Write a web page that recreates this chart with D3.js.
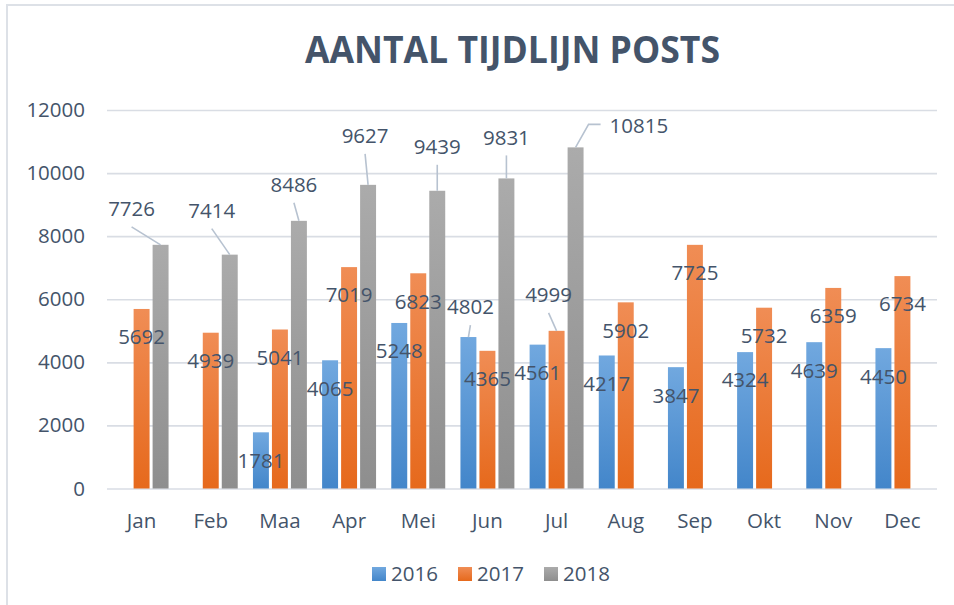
<!DOCTYPE html>
<html lang="nl">
<head>
    <meta charset="utf-8">
    <title>Aantal tijdlijn posts</title>
    <script src="https://cdn.jsdelivr.net/npm/d3@7"></script>
    <style>
        body { margin: 0; background: #fff; }
        text { font-family: "Open Sans", "Noto Sans", sans-serif; fill: #44546a; }
        .grid line { stroke: #d9dde4; stroke-width: 1.6; }
        .grid .domain { display: none; }
    </style>
</head>
<body>
<script>
    // data
    const months = ["Jan", "Feb", "Maa", "Apr", "Mei", "Jun", "Jul", "Aug", "Sep", "Okt", "Nov", "Dec"];
    const years = ["2016", "2017", "2018"];
    const values2016 = [null, null, 1781, 4065, 5248, 4802, 4561, 4217, 3847, 4324, 4639, 4450];
    const values2017 = [5692, 4939, 5041, 7019, 6823, 4365, 4999, 5902, 7725, 5732, 6359, 6734];
    const values2018 = [7726, 7414, 8486, 9627, 9439, 9831, 10815, null, null, null, null, null];
    const yTicks = [0, 2000, 4000, 6000, 8000, 10000, 12000];

    // labels that were dragged out of the bar (callouts) - offset from bar top
    const callouts = [
        { year: "2018", month: "Jan", dx: -29, dy: -36 },
        { year: "2018", month: "Feb", dx: -18, dy: -44 },
        { year: "2018", month: "Maa", dx: -5, dy: -36 },
        { year: "2018", month: "Apr", dx: -3, dy: -49 },
        { year: "2018", month: "Mei", dx: 0, dy: -44 },
        { year: "2018", month: "Jun", dx: 0, dy: -41 },
        { year: "2018", month: "Jul", dx: 34, dy: -22, elbow: true },
        { year: "2017", month: "Jul", dx: -8, dy: -36 },
        { year: "2016", month: "Jun", dx: 2, dy: -30 }
    ];

    const seriesValues = { "2016": values2016, "2017": values2017, "2018": values2018 };
    const gradients = {
        "2016": ["#71a8df", "#4386ca"],
        "2017": ["#f08d55", "#e6691c"],
        "2018": ["#ababab", "#8e8e8e"]
    };

    const w = 954, h = 605;
    const plotLeft = 107, plotRight = 937, plotTop = 110, plotBottom = 488.5;

    const svg = d3.select("body").append("svg")
        .attr("width", w)
        .attr("height", h);

    // chart area border
    svg.append("rect")
        .attr("x", 7).attr("y", 5)
        .attr("width", w + 20).attr("height", h + 20)
        .attr("fill", "none")
        .attr("stroke", "#dde1e7")
        .attr("stroke-width", 2);

    const defs = svg.append("defs");
    years.forEach(y => {
        const g = defs.append("linearGradient")
            .attr("id", "grad" + y)
            .attr("x1", 0).attr("y1", 0).attr("x2", 0).attr("y2", 1);
        g.append("stop").attr("offset", "0%").attr("stop-color", gradients[y][0]);
        g.append("stop").attr("offset", "100%").attr("stop-color", gradients[y][1]);
    });

    const x0 = d3.scaleBand()
        .domain(months)
        .range([plotLeft, plotRight])
        .paddingInner(0.22)
        .paddingOuter(0.11);

    const x1 = d3.scaleBand()
        .domain(years)
        .range([0, x0.bandwidth()])
        .paddingInner(0.16);

    const yScale = d3.scaleLinear()
        .domain([0, 12000])
        .range([plotBottom, plotTop]);

    // title
    svg.append("text")
        .attr("x", 512.5)
        .attr("y", 63)
        .attr("text-anchor", "middle")
        .attr("textLength", 415)
        .attr("lengthAdjust", "spacingAndGlyphs")
        .style("font-size", "38px")
        .style("font-weight", "bold")
        .text("AANTAL TIJDLIJN POSTS");

    // y axis + gridlines
    const yAxis = d3.axisLeft(yScale)
        .tickValues(yTicks)
        .tickSize(-(plotRight - plotLeft))
        .tickPadding(22)
        .tickFormat(d3.format("d"));

    svg.append("g")
        .attr("class", "grid")
        .attr("transform", "translate(" + plotLeft + ",0)")
        .call(yAxis)
        .selectAll("text")
        .style("font-size", "20.5px")
        .attr("fill", "#44546a");

    // x axis labels
    const xAxis = d3.axisBottom(x0).tickSize(0).tickPadding(24.5);
    const gx = svg.append("g")
        .attr("transform", "translate(0," + plotBottom + ")")
        .call(xAxis);
    gx.select(".domain").remove();
    gx.selectAll("text").style("font-size", "20.5px").attr("fill", "#44546a");

    // bars
    const rows = [];
    months.forEach((m, i) => {
        years.forEach(y => {
            const v = seriesValues[y][i];
            if (v != null) rows.push({ month: m, year: y, value: v });
        });
    });

    svg.append("g").selectAll("rect")
        .data(rows)
        .enter().append("rect")
        .attr("x", d => x0(d.month) + x1(d.year))
        .attr("y", d => yScale(d.value))
        .attr("width", x1.bandwidth())
        .attr("height", d => plotBottom - yScale(d.value))
        .attr("fill", d => "url(#grad" + d.year + ")");

    // data labels
    const labels = svg.append("g");
    rows.forEach(d => {
        const cx = x0(d.month) + x1(d.year) + x1.bandwidth() / 2;
        const ty = yScale(d.value);
        const c = callouts.find(o => o.year === d.year && o.month === d.month);
        if (!c) {
            labels.append("text")
                .attr("x", cx).attr("y", ty + 28)
                .attr("dy", "0.36em")
                .attr("text-anchor", "middle")
                .style("font-size", "20.5px")
                .text(d.value);
            return;
        }
        const lx = cx + c.dx, ly = ty + c.dy;
        if (c.elbow) {
            labels.append("polyline")
                .attr("points", [[lx - 9, ly - 1], [lx - 21, ly - 1], [cx, ty]].join(" "))
                .attr("fill", "none")
                .attr("stroke", "#b7c2d0")
                .attr("stroke-width", 1.6);
            labels.append("text")
                .attr("x", lx).attr("y", ly)
                .attr("dy", "0.36em")
                .attr("text-anchor", "start")
                .style("font-size", "20.5px")
                .text(d.value);
        } else {
            labels.append("line")
                .attr("x1", lx).attr("y1", ly + 18)
                .attr("x2", cx).attr("y2", ty)
                .attr("stroke", "#b7c2d0")
                .attr("stroke-width", 1.6);
            labels.append("text")
                .attr("x", lx).attr("y", ly)
                .attr("dy", "0.36em")
                .attr("text-anchor", "middle")
                .style("font-size", "20.5px")
                .text(d.value);
        }
    });

    // legend
    const legendX = [372, 458, 544];
    const legend = svg.append("g");
    years.forEach((y, i) => {
        legend.append("rect")
            .attr("x", legendX[i]).attr("y", 567)
            .attr("width", 14).attr("height", 14)
            .attr("fill", "url(#grad" + y + ")");
        legend.append("text")
            .attr("x", legendX[i] + 19).attr("y", 574)
            .attr("dy", "0.36em")
            .style("font-size", "20.5px")
            .text(y);
    });
</script>
</body>
</html>
